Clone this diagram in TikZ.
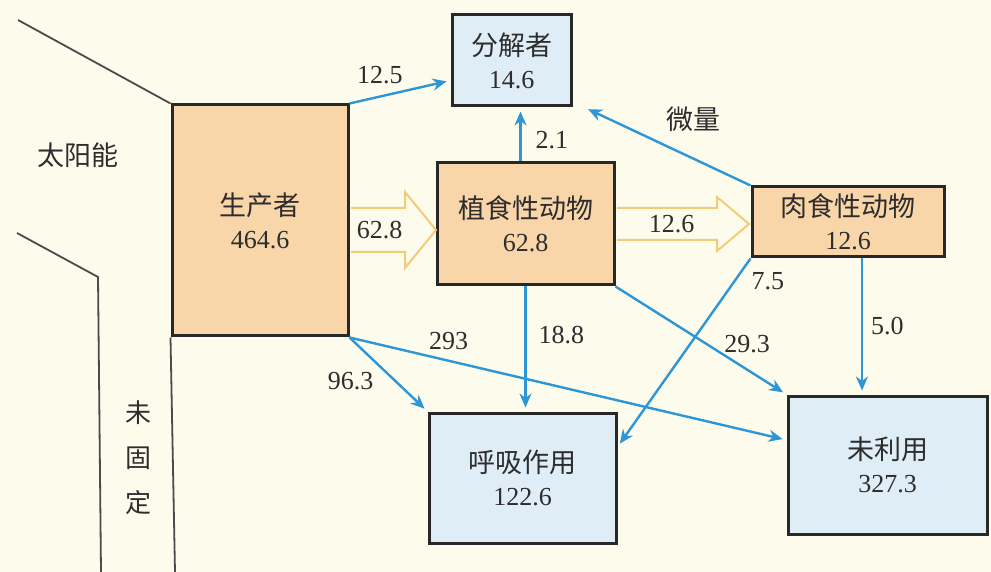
\documentclass[tikz,border=0pt]{standalone}
\usepackage{fontspec}
\setmainfont{Liberation Serif}
\newfontfamily\cjk{Noto Sans CJK SC}
\usepackage{tikz}
\usetikzlibrary{arrows.meta,positioning,calc}
\usepackage{xcolor}
\definecolor{bgcol}{RGB}{253,251,236}
\definecolor{levelfill}{RGB}{249,213,170}
\definecolor{sinkfill}{RGB}{223,237,247}
\definecolor{boxline}{RGB}{40,40,40}
\definecolor{flowcol}{RGB}{45,150,215}
\definecolor{fatcol}{RGB}{244,204,120}
\definecolor{edgecol}{RGB}{75,75,75}
\definecolor{txtcol}{RGB}{45,45,45}
\tikzset{
  % trophic level box (orange)
  levelbox/.style={rectangle, draw=boxline, line width=1.5pt, fill=levelfill, inner sep=0pt,
                   align=center, text=txtcol, font=\fontsize{13}{16.5}\selectfont},
  % energy sink box (blue)
  sinkbox/.style={rectangle, draw=boxline, line width=1.5pt, fill=sinkfill, inner sep=0pt,
                  align=center, text=txtcol, font=\fontsize{13}{16.5}\selectfont},
  % thin energy flow
  flow/.style={-{Stealth[length=7pt,width=6pt]}, line width=1.2pt, draw=flowcol, shorten >=2pt},
  % hollow energy flow between levels
  fatflow/.style={draw=fatcol, line width=1pt, fill=bgcol, line join=miter},
  % value on a flow
  flowlabel/.style={font=\fontsize{13}{15}\selectfont, text=txtcol, inner sep=0pt},
  % outline of the sunlight band
  edgeline/.style={draw=edgecol, line width=0.9pt},
}
\newcommand{\zh}[1]{{\cjk\fontsize{13.5}{16.5}\selectfont #1}}

\begin{document}
\begin{tikzpicture}[x=0.5pt, y=-0.5pt]

  \fill[bgcol] (0,0) rectangle (991,572);
  \useasboundingbox (0,0) rectangle (991,572);

  % ═══════ BOXES ═══════
  \node[levelbox, minimum width=88pt, minimum height=115.5pt] (prod) at (260,220.5) {\zh{生产者}\\464.6};
  \node[sinkbox, minimum width=59.5pt, minimum height=45.5pt] (decomp) at (511.5,60.5) {\zh{分解者}\\14.6};
  \node[levelbox, minimum width=88.5pt, minimum height=61pt] (herb) at (525.5,224) {\zh{植食性动物}\\62.8};
  \node[levelbox, minimum width=96pt, minimum height=35pt] (carn) at (848,222) {\zh{肉食性动物}\\12.6};
  \node[sinkbox, minimum width=93.5pt, minimum height=65pt] (resp) at (522.5,478) {\zh{呼吸作用}\\122.6};
  \node[sinkbox, minimum width=99.5pt, minimum height=69pt] (unused) at (887.5,465) {\zh{未利用}\\327.3};

  % ═══════ SUNLIGHT BAND ═══════
  \coordinate (sunTop) at (18,20);
  \coordinate (sunLow) at (17,233);
  \coordinate (sunBend) at (98,277);
  \coordinate (sunFoot) at (101,572);
  \coordinate (prodFoot) at (175,572);
  \draw[edgeline] (sunTop) -- (prod.north west);
  \draw[edgeline] (sunLow) -- (sunBend) -- (sunFoot);
  \draw[edgeline] (prod.south west) -- (prodFoot);
  \node[text=txtcol] (sun) at (78,155) {\zh{太阳能}};
  \node[text=txtcol, align=center, font=\cjk\fontsize{13}{22.5}\selectfont] (unfixed) at (138,458) {未\\固\\定};

  % ═══════ MAIN CHAIN ═══════
  \draw[fatflow] ([xshift=0.75pt,yshift=-4.75pt]prod.east) ++(0,-22) -- ++(54,0) -- ++(0,-16)
    -- ++(31,38) -- ++(-31,38) -- ++(0,-16) -- ++(-54,0);
  \node[flowlabel] (lab628) at ([xshift=15pt,yshift=-4.75pt]prod.east) {62.8};
  \draw[fatflow] ([xshift=0.75pt]herb.east) ++(0,-16) -- ++(100,0) -- ++(0,-11)
    -- ++(32,27) -- ++(-32,27) -- ++(0,-11) -- ++(-100,0);
  \node[flowlabel] (lab126) at ([xshift=28pt]herb.east) {12.6};

  % ═══════ TO DECOMPOSERS ═══════
  \draw[flow] (prod.north east) -- ([yshift=-10pt]decomp.west)
    node[flowlabel, pos=0.3, above=6pt] {12.5};
  \draw[flow] ([xshift=-2.5pt]herb.north) -- ([xshift=-2.5pt]herb.north |- decomp.south)
    node[flowlabel, pos=0.4, right=7pt] {2.1};
  \draw[flow] (carn.north west) -- ([xshift=6pt]decomp.south east)
    node[flowlabel, midway, above right=7pt and -1pt] {\zh{微量}};

  % ═══════ RESPIRATION / UNUSED ═══════
  \draw[flow] (prod.south east) -- ([yshift=12.5pt]unused.west)
    node[flowlabel, pos=0.227, above=5pt] {293};
  \draw[flow] (prod.south east) -- (resp.north west)
    node[flowlabel, pos=0.45, below left=0pt and 5pt] {96.3};
  \draw[flow] (herb.south) -- (herb.south |- resp.north)
    node[flowlabel, pos=0.39, right=6pt] {18.8};
  \draw[flow] (herb.south east) -- (unused.north west)
    node[flowlabel, pos=0.77, above=8pt] {29.3};
  \draw[flow] (carn.south west) -- ([yshift=15.5pt]resp.east)
    node[flowlabel, pos=0.12, right=8pt] {7.5};
  \draw[flow] ([xshift=7pt]carn.south) -- ([xshift=7pt]carn.south |- unused.north)
    node[flowlabel, midway, right=4pt] {5.0};

\end{tikzpicture}
\end{document}
